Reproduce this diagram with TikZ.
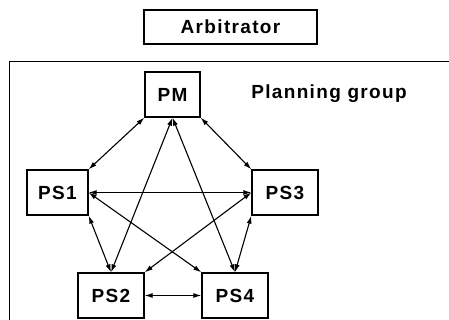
\documentclass[tikz,border=0pt]{standalone}
\usepackage{fontspec}
\setmainfont{Liberation Sans}
\usetikzlibrary{arrows.meta,positioning}

\begin{document}
\begin{tikzpicture}[x=1pt,y=-1pt,
  box/.style={draw,line width=1.3pt,minimum width=66pt,minimum height=45pt,
    inner sep=0pt,font=\fontsize{19}{22}\selectfont\bfseries\addfontfeatures{LetterSpace=7}},
  arr/.style={{Latex[length=8pt,width=5pt]}-{Latex[length=8pt,width=5pt]},line width=1.1pt}
]
  \useasboundingbox (0,0) rectangle (449,320);
  \node[box,minimum width=173pt,minimum height=34pt] (arb) at (230.5,27) {Arbitrator};
  \node[draw,line width=1.2pt,minimum width=460pt,minimum height=280pt,anchor=north west,inner sep=0pt] (group) at (9,61) {};
  \node[font=\fontsize{19}{22}\selectfont\bfseries\addfontfeatures{LetterSpace=7}] (glabel) at (329,94) {Planning group};
  \node[box,minimum width=55pt] (pm) at (172.5,94.5) {PM};
  \node[box,minimum width=61pt] (ps1) at (57.5,192.5) {PS1};
  \node[box] (ps3) at (285,192.5) {PS3};
  \node[box] (ps2) at (111,295.5) {PS2};
  \node[box] (ps4) at (235,295.5) {PS4};
  \draw[arr] (pm.south west) -- (ps1.north east);
  \draw[arr] (pm.south east) -- (ps3.north west);
  \draw[arr] (pm.south) -- (ps2.north);
  \draw[arr] (pm.south) -- (ps4.north);
  \draw[arr] (ps1.east) -- (ps3.west);
  \draw[arr] (ps1.east) -- (ps4.north west);
  \draw[arr] (ps3.west) -- (ps2.north east);
  \draw[arr] (ps1.south east) -- (ps2.north);
  \draw[arr] (ps3.south west) -- (ps4.north);
  \draw[arr] (ps2.east) -- (ps4.west);
\end{tikzpicture}
\end{document}
